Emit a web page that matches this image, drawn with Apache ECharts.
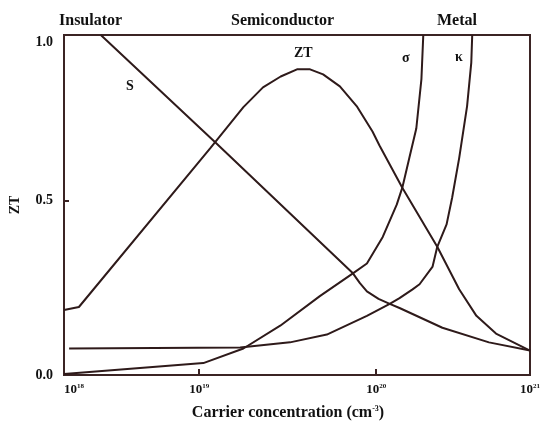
<!DOCTYPE html>
<html>
<head>
<meta charset="utf-8">
<script src="https://cdn.jsdelivr.net/npm/echarts@6/dist/echarts.min.js"></script>
<style>
  html, body { margin: 0; padding: 0; background: #fff; }
  #main { width: 543px; height: 426px; }
</style>
</head>
<body>
<div id="main"></div>
<script>
// x is the position along the concentration axis (0 = 10^18 edge, 100 = 10^21 edge)
var xTickPos = [0, 29, 67, 100];
var xTickExp = ["18", "19", "20", "21"];
var yTickPos = [0, 0.513, 0.977];
var yTickText = ["0.0", "0.5", "1.0"];

// curves: [x, ZT-scale value]
var sData = [[7.9, 1.0], [32.5, 0.684], [62.0, 0.299], [63.5, 0.27], [65.0, 0.246],
  [67.5, 0.224], [69.9, 0.209], [72.0, 0.197], [81.2, 0.139], [91.2, 0.096], [100, 0.072]];
var ztData = [[0, 0.191], [3.2, 0.2], [31.4, 0.667], [38.5, 0.788], [42.7, 0.846],
  [46.5, 0.878], [50.0, 0.899], [52.8, 0.899], [55.6, 0.884], [59.2, 0.849], [62.8, 0.791],
  [66.2, 0.716], [67.7, 0.675], [72.6, 0.551], [80.1, 0.377], [84.8, 0.252],
  [88.5, 0.174], [92.7, 0.122], [100, 0.072]];
var sigmaData = [[0, 0.003], [29.9, 0.035], [38.5, 0.078], [46.4, 0.145], [54.9, 0.232],
  [62.0, 0.299], [65.0, 0.328], [68.4, 0.406], [71.4, 0.501], [72.6, 0.551],
  [74.1, 0.638], [75.6, 0.725], [76.7, 0.87], [77.1, 1.0]];
var kappaData = [[1.1, 0.078], [37.8, 0.081], [48.5, 0.096], [56.4, 0.119], [65.0, 0.174],
  [69.9, 0.209], [72.0, 0.226], [74.8, 0.252], [76.3, 0.267], [79.1, 0.319],
  [80.1, 0.377], [82.1, 0.443], [83.3, 0.522], [84.8, 0.638], [86.5, 0.791],
  [87.4, 0.919], [87.6, 1.0]];

var ink = "#2e1a1a";
var serif = "Liberation Serif";

var chartDom = document.getElementById("main");
var myChart = echarts.init(chartDom);

function curve(name, data) {
  return {
    name: name,
    type: "line",
    data: data,
    showSymbol: false,
    smooth: false,
    lineStyle: { color: ink, width: 2 },
    animation: false
  };
}

function txt(x, y, s, size) {
  return {
    type: "text",
    left: x,
    top: y,
    style: {
      text: s,
      font: "bold " + (size || 16) + "px '" + serif + "'",
      fill: "#111"
    }
  };
}

var option = {
  animation: false,
  grid: {
    left: 63, right: 12, top: 35, bottom: 46,
    show: true, borderColor: "#3b2424", borderWidth: 2
  },
  xAxis: {
    type: "value",
    min: 0, max: 100,
    axisLine: { show: true, lineStyle: { color: "#3b2424", width: 2 } },
    axisTick: {
      show: true, inside: true, length: 6,
      customValues: [xTickPos[1], xTickPos[2]],
      lineStyle: { color: "#3b2424", width: 2 }
    },
    splitLine: { show: false },
    axisLabel: {
      customValues: xTickPos,
      margin: 8,
      formatter: function (v) {
        var i = xTickPos.indexOf(v);
        return "{b|10}{s|" + xTickExp[i] + "}";
      },
      rich: {
        b: { fontFamily: serif, fontWeight: "bold", fontSize: 13, color: "#111" },
        s: { fontFamily: serif, fontWeight: "bold", fontSize: 7, color: "#111",
             verticalAlign: "top", padding: [0, 0, 6, 0] }
      },
      alignMinLabel: "left"
    },
    name: "{t|Carrier concentration (cm}{u|-3}{t|)}",
    nameLocation: "middle",
    nameGap: 30,
    nameTextStyle: {
      padding: [0, 18, 0, 0],
      rich: {
        t: { fontFamily: serif, fontWeight: "bold", fontSize: 16, color: "#111" },
        u: { fontFamily: serif, fontWeight: "bold", fontSize: 8, color: "#111",
             verticalAlign: "top", padding: [0, 0, 8, 0] }
      }
    }
  },
  yAxis: {
    type: "value",
    min: 0, max: 1,
    axisLine: { show: true, lineStyle: { color: "#3b2424", width: 2 } },
    axisTick: {
      show: true, inside: true, length: 5,
      customValues: [yTickPos[1]],
      lineStyle: { color: "#3b2424", width: 2 }
    },
    splitLine: { show: false },
    axisLabel: {
      customValues: yTickPos,
      margin: 11,
      formatter: function (v) {
        return yTickText[yTickPos.indexOf(v)];
      },
      fontFamily: serif, fontWeight: "bold", fontSize: 14, color: "#111"
    },
    name: "ZT",
    nameLocation: "middle",
    nameRotate: 90,
    nameGap: 42,
    nameTextStyle: { fontFamily: serif, fontWeight: "bold", fontSize: 14, color: "#111" }
  },
  graphic: [
    txt(59, 13, "Insulator"),
    txt(231, 13, "Semiconductor"),
    txt(437, 13, "Metal"),
    txt(294, 46, "ZT", 14),
    txt(126, 79, "S", 14),
    txt(402, 51, "\u03c3", 14),
    txt(455, 50, "\u03ba", 14)
  ],
  series: [
    curve("S", sData),
    curve("ZT", ztData),
    curve("sigma", sigmaData),
    curve("kappa", kappaData)
  ]
};

option && myChart.setOption(option);
</script>
</body>
</html>
